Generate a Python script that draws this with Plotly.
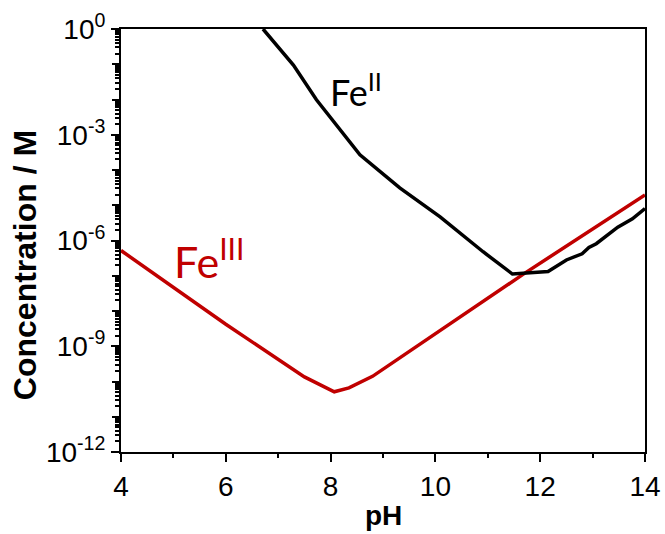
import plotly.graph_objects as go

# Fe(III) curve (red)
fe3_ph = [4.0, 6.0, 7.5, 8.07, 8.35, 8.8, 11.7, 14.0]
fe3_conc = [5.2e-7, 4.2e-9, 1.35e-10, 5.1e-11, 6.6e-11, 1.4e-10, 1.17e-7, 1.95e-5]

# Fe(II) curve (black)
fe2_ph = [6.71, 7.29, 7.73, 8.56, 9.32, 10.09, 10.91, 11.47, 12.15, 12.5, 12.8, 12.93, 13.07, 13.48, 13.76, 14.0]
fe2_conc = [1.0, 9.5e-2, 9.8e-3, 2.7e-4, 3.1e-5, 4.7e-6, 4.8e-7, 1.12e-7, 1.32e-7, 2.8e-7, 4.2e-7, 6.3e-7, 8.1e-7, 2.4e-6, 4.1e-6, 8.1e-6]

x_ticks = [4, 6, 8, 10, 12, 14]
x_minor = [5, 7, 9, 11, 13]
y_labeled = [0, -3, -6, -9, -12]
y_unlabeled = [-1, -2, -4, -5, -7, -8, -10, -11]

y_tickvals = [10.0 ** e for e in y_labeled]
y_ticktext = [f"10<sup>{e}</sup>" for e in y_labeled]
y_tick2vals = [10.0 ** e for e in y_unlabeled]
y_minor = [k * 10.0 ** e for e in range(-12, 0) for k in range(2, 10)]

font_axis = "Arial, Liberation Sans, sans-serif"

fig = go.Figure()
fig.add_trace(go.Scatter(x=fe3_ph, y=fe3_conc, mode="lines",
                         line=dict(color="#c00000", width=3.5), showlegend=False))
fig.add_trace(go.Scatter(x=fe2_ph, y=fe2_conc, mode="lines",
                         line=dict(color="black", width=3.5), showlegend=False))
# same data on the tick-only overlay axis, invisible, so the axis gets drawn
fig.add_trace(go.Scatter(x=fe2_ph, y=fe2_conc, mode="lines", yaxis="y2",
                         line=dict(color="rgba(0,0,0,0)", width=0), showlegend=False,
                         hoverinfo="skip"))

fig.update_layout(
    width=665, height=534, autosize=False,
    margin=dict(l=121, r=20, t=29, b=82, pad=0),
    paper_bgcolor="white", plot_bgcolor="white",
    font=dict(family=font_axis, color="black", size=28),
    xaxis=dict(range=[4, 14], tickvals=x_ticks, ticks="outside", ticklen=8, tickwidth=2,
               tickcolor="black", showline=True, linewidth=2, linecolor="black", mirror=True,
               showgrid=False, zeroline=False, tickfont=dict(size=28), automargin=False,
               minor=dict(tickvals=x_minor, ticks="outside", ticklen=4, tickwidth=2, tickcolor="black")),
    yaxis=dict(type="log", range=[-12, 0], tickvals=y_tickvals, ticktext=y_ticktext,
               ticks="outside", ticklen=8, tickwidth=2, tickcolor="black",
               showline=True, linewidth=2, linecolor="black", mirror=True,
               showgrid=False, zeroline=False, tickfont=dict(size=28), automargin=False,
               minor=dict(tickvals=y_minor, ticks="outside", ticklen=4, tickwidth=1.5, tickcolor="black")),
    yaxis2=dict(type="log", range=[-12, 0], overlaying="y", side="left", matches="y",
                tickvals=y_tick2vals, showticklabels=False, ticks="outside", ticklen=8,
                tickwidth=2, tickcolor="black", showline=False, showgrid=False,
                zeroline=False, automargin=False),
)

fig.add_annotation(text="<b>Concentration / M</b>", xref="paper", yref="paper",
                   x=-0.183, y=0.442, textangle=-90, showarrow=False,
                   xanchor="center", yanchor="middle",
                   font=dict(family=font_axis, size=32, color="black"))
fig.add_annotation(text="<b>pH</b>", xref="paper", yref="paper",
                   x=0.5, y=-0.151, showarrow=False, xanchor="center", yanchor="middle",
                   font=dict(family=font_axis, size=28, color="black"))

fig.add_annotation(text="Fe<sup>II</sup>", x=7.95, y=-1.74, xref="x", yref="y",
                   xanchor="left", yanchor="middle", showarrow=False,
                   font=dict(family="Lato, sans-serif", size=36, color="black"))
fig.add_annotation(text="Fe<sup>III</sup>", x=4.98, y=-6.5, xref="x", yref="y",
                   xanchor="left", yanchor="middle", showarrow=False,
                   font=dict(family="Lato, sans-serif", size=43, color="#c00000"))

fig.write_html("out.html", config={"displayModeBar": False, "responsive": False},
               post_script="document.body.style.margin='0';document.body.style.overflow='hidden';")
